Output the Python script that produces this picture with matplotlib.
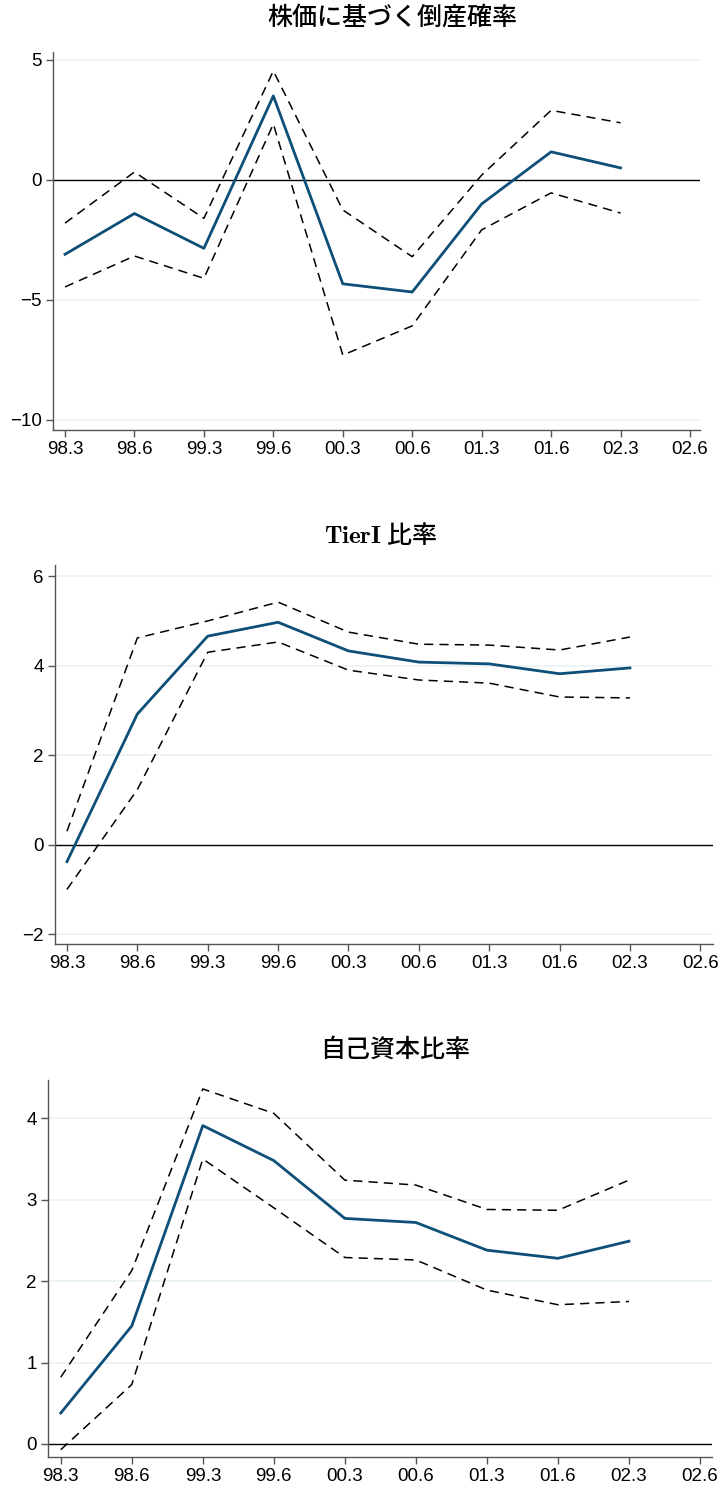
import matplotlib
matplotlib.use('Agg')
import matplotlib.pyplot as plt

# 時点ラベル
periods = ['98.3', '98.6', '99.3', '99.6', '00.3', '00.6', '01.3', '01.6', '02.3', '02.6']

# 株価に基づく倒産確率
p1_est = [-3.1, -1.4, -2.85, 3.5, -4.33, -4.67, -1.0, 1.17, 0.5]
p1_up = [-1.8, 0.33, -1.6, 4.54, -1.25, -3.2, 0.2, 2.9, 2.38]
p1_lo = [-4.46, -3.17, -4.1, 2.33, -7.3, -6.08, -2.08, -0.54, -1.38]

# TierI 比率
p2_est = [-0.38, 2.92, 4.66, 4.97, 4.33, 4.08, 4.04, 3.82, 3.95]
p2_up = [0.3, 4.62, 5.0, 5.42, 4.75, 4.48, 4.46, 4.35, 4.64]
p2_lo = [-1.0, 1.23, 4.3, 4.53, 3.9, 3.68, 3.61, 3.3, 3.28]

# 自己資本比率
p3_est = [0.38, 1.45, 3.91, 3.48, 2.77, 2.72, 2.38, 2.28, 2.49]
p3_up = [0.82, 2.13, 4.36, 4.06, 3.24, 3.18, 2.88, 2.87, 3.24]
p3_lo = [-0.07, 0.73, 3.5, 2.9, 2.29, 2.26, 1.89, 1.71, 1.75]

panels = [
    dict(title='株価に基づく倒産確率', est=p1_est, up=p1_up, lo=p1_lo,
         yticks=[-10, -5, 0, 5], ylim=(-10.42, 5.33), xlim=(-0.173, 9.144),
         rect=[53/720, 1-430/1488, 647/720, 378/1488], tx=392/720, ty=1-18/1488),
    dict(title=r'$\mathbf{TierI}$ 比率', est=p2_est, up=p2_up, lo=p2_lo,
         yticks=[-2, 0, 2, 4, 6], ylim=(-2.22, 6.25), xlim=(-0.17, 9.18),
         rect=[55/720, 1-944/1488, 658/720, 379/1488], tx=380/720, ty=1-535/1488),
    dict(title='自己資本比率', est=p3_est, up=p3_up, lo=p3_lo,
         yticks=[0, 1, 2, 3, 4], ylim=(-0.16, 4.47), xlim=(-0.18, 9.17),
         rect=[48/720, 1-1457/1488, 664/720, 377/1488], tx=395/720, ty=1-1050/1488),
]

plt.rcParams['mathtext.fontset'] = 'cm'
fig = plt.figure(figsize=(7.2, 14.88), dpi=100)

for p in panels:
    ax = fig.add_axes(p['rect'])
    x = range(len(p['est']))
    # 目盛線
    for t in p['yticks']:
        if t != 0:
            ax.axhline(t, color='#eaf2f3', lw=1.2, zorder=0)
    ax.axhline(0, color='black', lw=1.0, zorder=1)
    ax.plot(x, p['up'], color='black', lw=1.1, dashes=(6, 4), zorder=2)
    ax.plot(x, p['lo'], color='black', lw=1.1, dashes=(6, 4), zorder=2)
    ax.plot(x, p['est'], color='#0e4f78', lw=2.0, zorder=3)
    ax.set_xlim(p['xlim'])
    ax.set_ylim(p['ylim'])
    ax.set_xticks(range(len(periods)))
    ax.set_xticklabels(periods)
    ax.set_yticks(p['yticks'])
    ax.set_yticklabels([str(t).replace('-', '\u2212') for t in p['yticks']])
    for s in ['top', 'right']:
        ax.spines[s].set_visible(False)
    for s in ['left', 'bottom']:
        ax.spines[s].set_color('#555555')
        ax.spines[s].set_linewidth(1.0)
    ax.tick_params(direction='out', length=5, width=1, color='#555555',
                   labelsize=13.5, pad=3)
    for lab in ax.get_xticklabels() + ax.get_yticklabels():
        lab.set_family(['Liberation Sans', 'DejaVu Sans'])
    fig.text(p['tx'], p['ty'], p['title'], ha='center', va='center',
             fontsize=18, weight='medium',
             family=['Noto Sans CJK JP', 'DejaVu Sans'])

fig.savefig('out.png', dpi=100)
